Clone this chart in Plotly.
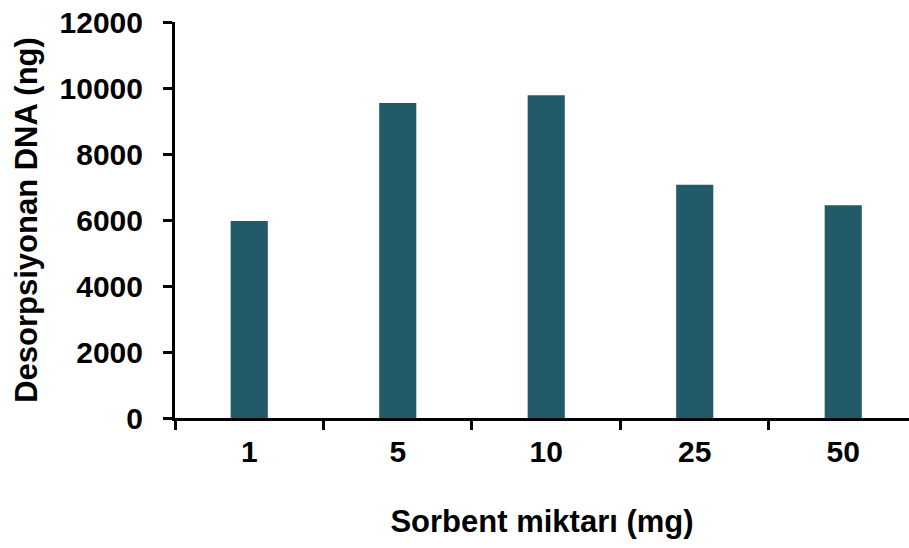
import plotly.graph_objects as go

# Sorbent amount categories and desorbed DNA amounts
categories = ["1", "5", "10", "25", "50"]
desorbed_dna = [5970, 9545, 9780, 7070, 6445]
y_ticks = [0, 2000, 4000, 6000, 8000, 10000, 12000]

font_family = "Liberation Sans, Arial, sans-serif"
bar_color = "#235a69"

fig = go.Figure(
    go.Bar(
        x=categories,
        y=desorbed_dna,
        marker=dict(color=bar_color, line=dict(width=0)),
        width=0.25,
    )
)

fig.update_layout(
    width=909,
    height=548,
    margin=dict(l=175, r=0, t=22, b=130),
    plot_bgcolor="white",
    paper_bgcolor="white",
    showlegend=False,
    font=dict(family=font_family, color="black"),
)

fig.update_xaxes(
    type="category",
    range=[-0.5, 4.443],
    showline=True,
    linecolor="black",
    linewidth=3,
    ticks="outside",
    tickson="boundaries",
    ticklen=9,
    tickwidth=3,
    tickcolor="black",
    showgrid=False,
    zeroline=False,
    tickfont=dict(size=30, family=font_family, color="black", weight="bold"),
    ticklabelstandoff=5,
    title=dict(
        text="<b>Sorbent miktarı (mg)</b>",
        font=dict(size=31, family=font_family, color="black"),
        standoff=44,
    ),
)

fig.update_yaxes(
    range=[0, 12000],
    tickvals=y_ticks,
    ticktext=[str(v) for v in y_ticks],
    showline=True,
    linecolor="black",
    linewidth=3,
    ticks="outside",
    ticklen=9,
    tickwidth=3,
    tickcolor="black",
    showgrid=False,
    zeroline=False,
    tickfont=dict(size=30, family=font_family, color="black", weight="bold"),
    ticklabelstandoff=14,
    title=dict(
        text="<b>Desorpsiyonan DNA (ng)</b>",
        font=dict(size=31, family=font_family, color="black"),
        standoff=13,
    ),
)

fig.write_html("out.html")
